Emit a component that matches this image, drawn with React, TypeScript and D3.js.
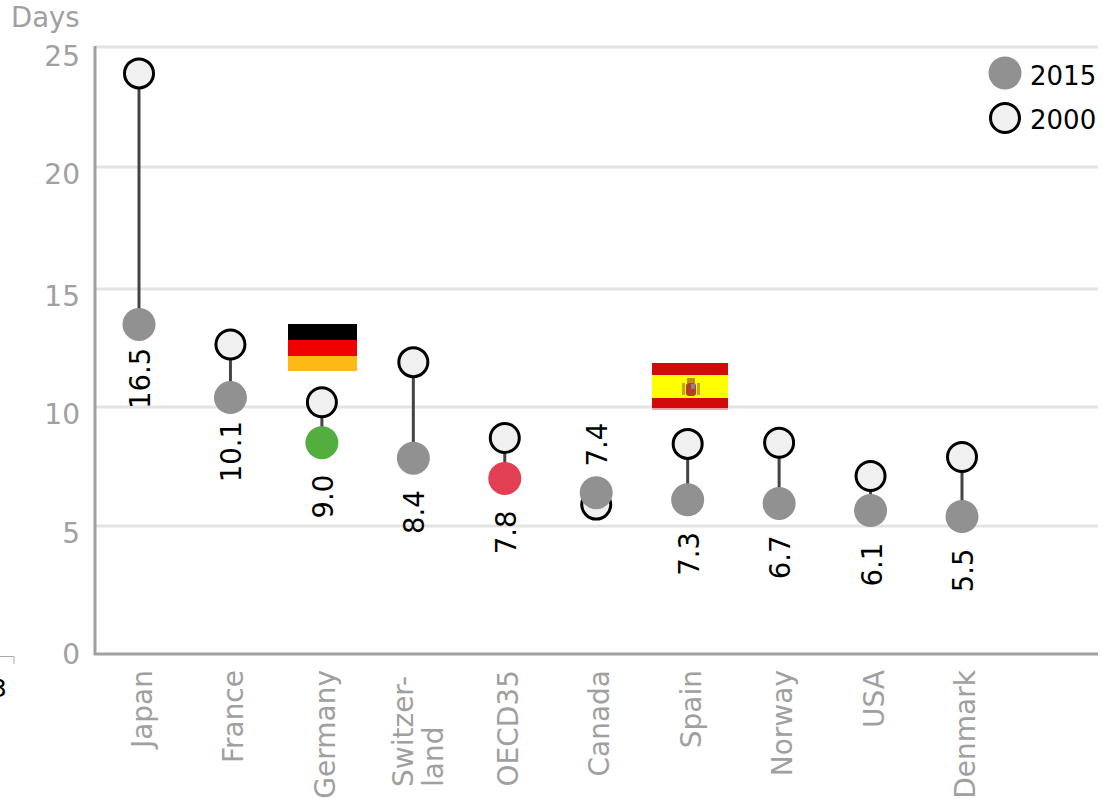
import React from 'react';
import * as d3 from 'd3';

const categories = ['Japan', 'France', 'Germany', 'Switzer-|land', 'OECD35', 'Canada', 'Spain', 'Norway', 'USA', 'Denmark'];
const values2015 = [13.5, 10.4, 8.5, 7.85, 7.0, 6.4, 6.1, 5.95, 5.65, 5.4];
const values2000 = [23.9, 12.65, 10.2, 11.9, 8.7, 5.9, 8.45, 8.5, 7.1, 7.9];
const shownLabels = ['16.5', '10.1', '9.0', '8.4', '7.8', '7.4', '7.3', '6.7', '6.1', '5.5'];
const highlight: Record<string, string> = { Germany: '#52ae3f', OECD35: '#e23f52' };
const yTicks = [0, 5, 10, 15, 20, 25];
const yPixels = [654, 526, 407, 289, 167, 47];

const FONT = '"DejaVu Sans", Verdana, sans-serif';
const GREY = '#a0a0a0';

export default function App() {
  const y = d3.scaleLinear().domain(yTicks).range(yPixels);
  const x = d3.scalePoint<string>().domain(categories).range([139, 962]);
  return (
    <svg width={1103} height={799} style={{ position: 'absolute', left: 0, top: 0, fontFamily: FONT }}>
      <rect width={1103} height={799} fill="#fff" />
      <text x={11} y={27} fontSize={27.5} fill={GREY}>Days</text>
      {yTicks.map((t) => (
        <g key={t}>
          {t > 0 && <line x1={96} x2={1098} y1={y(t)} y2={y(t)} stroke="#e3e3e3" strokeWidth={3} />}
          <text x={80} y={y(t) + (t === 0 ? 10 : t === 25 ? 19 : 17)} textAnchor="end" fontSize={28} fill={GREY}>{t}</text>
        </g>
      ))}
      <line x1={95} x2={95} y1={46} y2={655} stroke={GREY} strokeWidth={3} />
      <line x1={94} x2={1098} y1={654} y2={654} stroke={GREY} strokeWidth={3} />

      <path d="M0 656.5H14V664" fill="none" stroke="#aaa" strokeWidth={1} />
      <text x={-9} y={697} fontSize={25} fill="#000">3</text>

      {/* German flag */}
      <g>
        <rect x={288} y={324} width={69} height={16} fill="#000" />
        <rect x={288} y={340} width={69} height={16} fill="#f00000" />
        <rect x={288} y={356} width={69} height={15} fill="#ffb914" />
      </g>
      {/* Spanish flag */}
      <g>
        <rect x={652} y={363} width={76} height={12} fill="#d20a0a" />
        <rect x={652} y={375} width={76} height={23} fill="#ffff00" />
        <rect x={652} y={398} width={76} height={10} fill="#d20a0a" />
        <rect x={652} y={408.5} width={76} height={1} fill="#e8505f" />
        <rect x={686} y={383} width={10} height={13} rx={3} fill="#b5401f" />
        <rect x={682} y={383} width={3} height={12} fill="#c9a227" />
        <rect x={697} y={383} width={3} height={12} fill="#c9a227" />
        <rect x={687} y={378} width={8} height={5} fill="#c08a1e" />
        <rect x={691} y={384} width={4} height={5} fill="#8a80a0" />
      </g>

      {categories.map((c, i) => {
        const cx = x(c) as number;
        const lines = c.split('|');
        const above = values2000[i] < values2015[i];
        const ly = y(values2015[i]) + (above ? -48 : 54);
        const lx = lines.length > 1 ? cx : cx + 13;
        return (
          <g key={c}>
            <line x1={cx} x2={cx} y1={y(values2000[i])} y2={y(values2015[i])} stroke="#444" strokeWidth={3} />
            <circle cx={cx} cy={y(values2000[i])} r={14.5} fill="#f0f0f0" stroke="#000" strokeWidth={3} />
            <circle cx={cx} cy={y(values2015[i])} r={16.5} fill={highlight[c] ?? '#919191'} />
            <text transform={`translate(${cx + 11},${ly}) rotate(-90)`} textAnchor="middle" fontSize={27.5} fill="#000">{shownLabels[i]}</text>
            {lines.length > 1 ? (
              <text transform={`translate(${lx},787) rotate(-90)`} fontSize={28} fill={GREY}>
                {lines.map((l, j) => (
                  <tspan key={l} x={0} dy={j === 0 ? 0 : 30}>{l}</tspan>
                ))}
              </text>
            ) : (
              <text transform={`translate(${lx},670) rotate(-90)`} textAnchor="end" fontSize={28} fill={GREY}>{c}</text>
            )}
          </g>
        );
      })}

      <circle cx={1005} cy={73} r={16.5} fill="#919191" />
      <text x={1030} y={85} fontSize={26} fill="#000">2015</text>
      <circle cx={1005} cy={118} r={14.5} fill="#f0f0f0" stroke="#000" strokeWidth={3} />
      <text x={1030} y={129} fontSize={26} fill="#000">2000</text>
    </svg>
  );
}
